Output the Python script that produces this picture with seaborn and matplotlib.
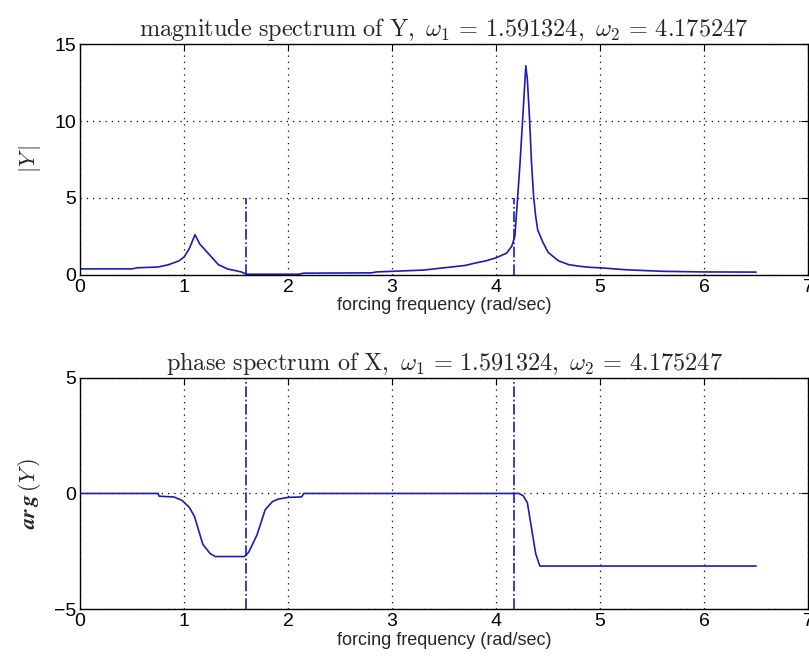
import numpy as np
import pandas as pd
import matplotlib
matplotlib.use("Agg")
import matplotlib.pyplot as plt
import seaborn as sns

# natural frequencies shown in the titles
w1 = 1.591324
w2 = 4.175247

# magnitude spectrum |Y|
mag_freq = [0.0, 0.5, 0.55, 0.75, 0.85, 0.95, 1.0, 1.05, 1.105, 1.15, 1.23, 1.33,
            1.42, 1.55, 1.6, 2.1, 2.15, 2.8, 2.85, 3.0, 3.3, 3.5, 3.7, 3.8, 3.9,
            4.0, 4.1, 4.15, 4.18, 4.2, 4.23, 4.26, 4.285, 4.3, 4.32, 4.34, 4.36,
            4.38, 4.4, 4.45, 4.5, 4.6, 4.7, 4.8, 4.9, 5.0, 5.25, 5.6, 6.0, 6.5]
mag_vals = [0.38, 0.38, 0.45, 0.5, 0.65, 0.9, 1.15, 1.7, 2.6, 2.0, 1.4, 0.65,
            0.37, 0.18, 0.03, 0.03, 0.1, 0.12, 0.18, 0.22, 0.3, 0.45, 0.6, 0.76, 0.9,
            1.1, 1.4, 1.85, 2.5, 4.4, 7.3, 10.7, 13.6, 12.7, 10.3, 7.3, 5.1,
            3.8, 2.9, 2.1, 1.45, 0.9, 0.65, 0.55, 0.48, 0.45, 0.32, 0.22, 0.18, 0.17]

# phase spectrum arg(Y)
ph_freq = [0.0, 0.75, 0.76, 0.9, 0.98, 1.05, 1.1, 1.18, 1.25, 1.3, 1.58, 1.62,
           1.7, 1.78, 1.85, 1.9, 2.0, 2.13, 2.15, 4.22, 4.26, 4.3, 4.34, 4.38,
           4.42, 6.5]
ph_vals = [0.0, 0.0, -0.12, -0.15, -0.3, -0.6, -1.0, -2.2, -2.6, -2.73, -2.73, -2.55,
           -1.8, -0.7, -0.35, -0.25, -0.17, -0.15, 0.0, 0.0, -0.1, -0.4, -1.5, -2.6,
           -3.14, -3.14]

mag = pd.DataFrame({"freq": mag_freq, "val": mag_vals})
ph = pd.DataFrame({"freq": ph_freq, "val": ph_vals})

sns.set_style("white")
plt.rcParams["mathtext.fontset"] = "cm"
plt.rcParams["font.family"] = ["Liberation Sans Narrow", "Liberation Sans", "DejaVu Sans"]

line_col = "#1c1cb4"
fig = plt.figure(figsize=(8.09, 6.70), dpi=100)
ax1 = fig.add_axes([0.099, 0.590, 0.900, 0.344])
ax2 = fig.add_axes([0.099, 0.091, 0.900, 0.345])


def style_axes(ax, yticks):
    ax.set_xlim(0, 7)
    ax.set_xticks(range(8))
    ax.set_yticks(yticks)
    ax.set_ylim(yticks[0], yticks[-1])
    ax.grid(True, color="black", linestyle=(0, (1, 4)), linewidth=0.9)
    ax.tick_params(direction="in", length=5, width=0.8, top=True, right=True,
                   labelsize=14, pad=3, colors="black")
    for s in ax.spines.values():
        s.set_color("black")
        s.set_linewidth(1.0)
    ax.set_xlabel("forcing frequency (rad/sec)", fontsize=13, labelpad=1)


sns.lineplot(data=mag, x="freq", y="val", ax=ax1, color=line_col, linewidth=1.2)
ax1.vlines([w1, w2], 0, 5, colors=line_col, linestyles="dashdot", linewidth=1.2)
style_axes(ax1, [0, 5, 10, 15])
ax1.set_ylabel(r"$|Y\,|$", fontsize=16, labelpad=8)
ax1.set_title(r"$\mathrm{magnitude\ spectrum\ of\ Y,}\ \omega_1\,=\,1.591324,\ \omega_2\,=\,4.175247$",
              fontsize=17.5, pad=6)

sns.lineplot(data=ph, x="freq", y="val", ax=ax2, color=line_col, linewidth=1.2)
ax2.vlines([w1, w2], -5, 5, colors=line_col, linestyles="dashdot", linewidth=1.2)
style_axes(ax2, [-5, 0, 5])
ax2.set_ylabel(r"$\mathbfit{ar\,g}\,(Y\,)$", fontsize=16, labelpad=8)
ax2.set_title(r"$\mathrm{phase\ spectrum\ of\ X,}\ \omega_1\,=\,1.591324,\ \omega_2\,=\,4.175247$",
              fontsize=17.5, pad=6)

fig.savefig("out.png", dpi=100)
